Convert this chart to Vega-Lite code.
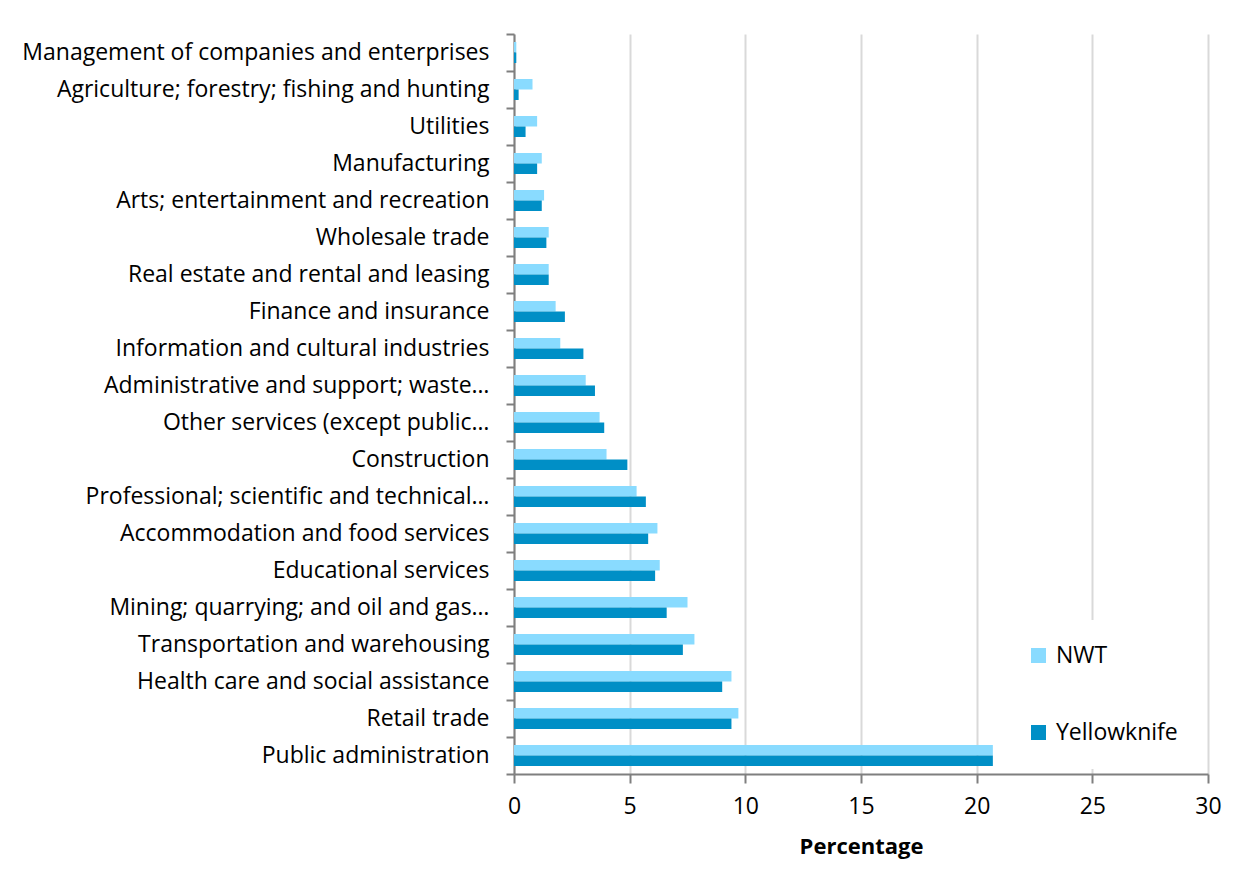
{
  "$schema": "https://vega.github.io/schema/vega-lite/v6.json",
  "width": 694,
  "height": 740,
  "autosize": {"type": "none"},
  "padding": {"left": 514, "top": 34, "right": 49, "bottom": 100},
  "background": "white",
  "config": {
    "view": {"stroke": null},
    "font": "Open Sans",
    "axis": {"labelFont": "Open Sans", "titleFont": "Open Sans"},
    "legend": {"labelFont": "Open Sans"}
  },
  "data": {
    "values": [
      {"industry": "Management of companies and enterprises", "series": "NWT", "value": 0.1},
      {"industry": "Management of companies and enterprises", "series": "Yellowknife", "value": 0.1},
      {"industry": "Agriculture; forestry; fishing and hunting", "series": "NWT", "value": 0.8},
      {"industry": "Agriculture; forestry; fishing and hunting", "series": "Yellowknife", "value": 0.2},
      {"industry": "Utilities", "series": "NWT", "value": 1.0},
      {"industry": "Utilities", "series": "Yellowknife", "value": 0.5},
      {"industry": "Manufacturing", "series": "NWT", "value": 1.2},
      {"industry": "Manufacturing", "series": "Yellowknife", "value": 1.0},
      {"industry": "Arts; entertainment and recreation", "series": "NWT", "value": 1.3},
      {"industry": "Arts; entertainment and recreation", "series": "Yellowknife", "value": 1.2},
      {"industry": "Wholesale trade", "series": "NWT", "value": 1.5},
      {"industry": "Wholesale trade", "series": "Yellowknife", "value": 1.4},
      {"industry": "Real estate and rental and leasing", "series": "NWT", "value": 1.5},
      {"industry": "Real estate and rental and leasing", "series": "Yellowknife", "value": 1.5},
      {"industry": "Finance and insurance", "series": "NWT", "value": 1.8},
      {"industry": "Finance and insurance", "series": "Yellowknife", "value": 2.2},
      {"industry": "Information and cultural industries", "series": "NWT", "value": 2.0},
      {"industry": "Information and cultural industries", "series": "Yellowknife", "value": 3.0},
      {"industry": "Administrative and support; waste…", "series": "NWT", "value": 3.1},
      {"industry": "Administrative and support; waste…", "series": "Yellowknife", "value": 3.5},
      {"industry": "Other services (except public…", "series": "NWT", "value": 3.7},
      {"industry": "Other services (except public…", "series": "Yellowknife", "value": 3.9},
      {"industry": "Construction", "series": "NWT", "value": 4.0},
      {"industry": "Construction", "series": "Yellowknife", "value": 4.9},
      {"industry": "Professional; scientific and technical…", "series": "NWT", "value": 5.3},
      {"industry": "Professional; scientific and technical…", "series": "Yellowknife", "value": 5.7},
      {"industry": "Accommodation and food services", "series": "NWT", "value": 6.2},
      {"industry": "Accommodation and food services", "series": "Yellowknife", "value": 5.8},
      {"industry": "Educational services", "series": "NWT", "value": 6.3},
      {"industry": "Educational services", "series": "Yellowknife", "value": 6.1},
      {"industry": "Mining; quarrying; and oil and gas…", "series": "NWT", "value": 7.5},
      {"industry": "Mining; quarrying; and oil and gas…", "series": "Yellowknife", "value": 6.6},
      {"industry": "Transportation and warehousing", "series": "NWT", "value": 7.8},
      {"industry": "Transportation and warehousing", "series": "Yellowknife", "value": 7.3},
      {"industry": "Health care and social assistance", "series": "NWT", "value": 9.4},
      {"industry": "Health care and social assistance", "series": "Yellowknife", "value": 9.0},
      {"industry": "Retail trade", "series": "NWT", "value": 9.7},
      {"industry": "Retail trade", "series": "Yellowknife", "value": 9.4},
      {"industry": "Public administration", "series": "NWT", "value": 20.7},
      {"industry": "Public administration", "series": "Yellowknife", "value": 20.7}
    ]
  },
  "mark": {"type": "bar"},
  "encoding": {
    "y": {
      "field": "industry",
      "type": "nominal",
      "sort": null,
      "scale": {"paddingInner": 0, "paddingOuter": 0},
      "axis": {
        "title": null,
        "tickBand": "extent",
        "ticks": true,
        "tickSize": 8,
        "tickWidth": 2,
        "tickColor": "#7f7f7f",
        "domainColor": "#7f7f7f",
        "domainWidth": 2,
        "labelFontSize": 23,
        "labelColor": "#000000",
        "labelPadding": 17,
        "labelLimit": 700,
        "grid": false
      }
    },
    "yOffset": {
      "field": "series",
      "type": "nominal",
      "sort": ["NWT", "Yellowknife"],
      "scale": {"paddingInner": 0, "paddingOuter": 0.76}
    },
    "x": {
      "field": "value",
      "type": "quantitative",
      "scale": {"domain": [0, 30], "nice": false},
      "axis": {
        "title": "Percentage",
        "titleFontSize": 22,
        "titleFontWeight": "bold",
        "titleColor": "#000000",
        "titlePadding": 18,
        "values": [0, 5, 10, 15, 20, 25, 30],
        "labelFlush": false,
        "grid": true,
        "gridColor": "#d9d9d9",
        "gridWidth": 2,
        "tickSize": 9,
        "tickWidth": 2,
        "tickColor": "#7f7f7f",
        "domainColor": "#7f7f7f",
        "domainWidth": 2,
        "labelFontSize": 23,
        "labelColor": "#000000",
        "labelPadding": 12
      }
    },
    "color": {
      "field": "series",
      "type": "nominal",
      "scale": {"domain": ["NWT", "Yellowknife"], "range": ["#89DBFF", "#008FC6"]},
      "legend": {
        "title": null,
        "orient": "none",
        "legendX": 489,
        "legendY": 586,
        "padding": 24,
        "fillColor": "white",
        "symbolType": "square",
        "symbolSize": 225,
        "symbolStrokeWidth": 0,
        "labelFontSize": 23,
        "labelColor": "#000000",
        "labelOffset": 6,
        "rowPadding": 53
      }
    }
  }
}
